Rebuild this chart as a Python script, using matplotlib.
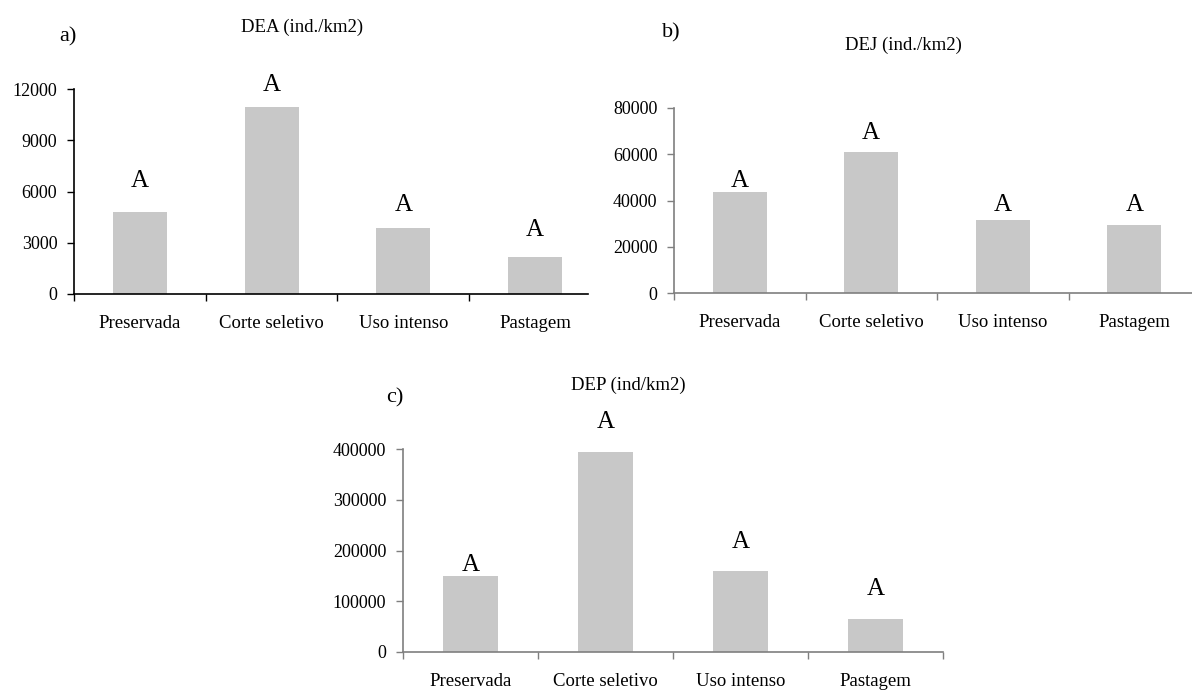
import matplotlib
matplotlib.use("Agg")
import matplotlib.pyplot as plt

plt.rcParams['font.family'] = ['Liberation Serif', 'DejaVu Serif']

categories = ["Preservada", "Corte seletivo", "Uso intenso", "Pastagem"]

dea_values = [4800, 10950, 3850, 2150]
dea_letters = ["A", "A", "A", "A"]
dea_letter_y = [6600, 12230, 5210, 3750]
dea_ticks = [0, 3000, 6000, 9000, 12000]

dej_values = [43600, 61000, 31500, 29400]
dej_letters = ["A", "A", "A", "A"]
dej_letter_y = [48400, 69200, 38000, 38000]
dej_ticks = [0, 20000, 40000, 60000, 80000]

dep_values = [150000, 395000, 160000, 65000]
dep_letters = ["A", "A", "A", "A"]
dep_letter_y = [171000, 454000, 217000, 124000]
dep_ticks = [0, 100000, 200000, 300000, 400000]

W, H = 1192, 690
fig = plt.figure(figsize=(W / 100, H / 100), dpi=100)

BAR_COLOR = "#c8c8c8"


def px_axes(x0, y0, x1, y1):
    # x0,x1 left/right px; y0 = top px, y1 = bottom px
    return fig.add_axes([x0 / W, 1 - y1 / H, (x1 - x0) / W, (y1 - y0) / H])


def draw_panel(ax, values, letters, letter_y, ticks, spine_color, bound_ticks, right_bound=None):
    x = list(range(len(categories)))
    ax.bar(x, values, width=0.41, color=BAR_COLOR, zorder=2)
    for xi, lab, ly in zip(x, letters, letter_y):
        ax.text(xi, ly, lab, ha="center", va="center", fontsize=18, clip_on=False)
    ax.set_xlim(-0.5, len(categories) - 0.5)
    ax.set_ylim(0, ticks[-1])
    ax.set_yticks(ticks)
    ax.set_yticklabels([str(t) for t in ticks], fontsize=13)
    ax.set_xticks(x)
    ax.set_xticklabels(categories, fontsize=13.5)
    ax.set_xticks(bound_ticks, minor=True)
    ax.tick_params(axis="x", which="major", length=0, pad=15)
    ax.tick_params(axis="x", which="minor", length=5, width=1, color=spine_color, direction="out")
    ax.tick_params(axis="y", length=5, width=1, color=spine_color, pad=7, direction="out")
    for s in ["top", "right"]:
        ax.spines[s].set_visible(False)
    for s in ["left", "bottom"]:
        ax.spines[s].set_color(spine_color)
        ax.spines[s].set_linewidth(1.2)
    if right_bound is not None:
        ax.spines["bottom"].set_bounds(-0.5, right_bound)
    ax.set_facecolor("none")


# panel a
ax_a = px_axes(74, 89, 74 + 4 * 131.7, 294)
draw_panel(ax_a, dea_values, dea_letters, dea_letter_y, dea_ticks, "black",
           [-0.5, 0.5, 1.5, 2.5], right_bound=3.4)
fig.text(302 / W, 1 - 27 / H, "DEA (ind./km2)", ha="center", va="center", fontsize=13.5)
fig.text(68 / W, 1 - 37 / H, "a)", ha="center", va="center", fontsize=16)

# panel b
ax_b = px_axes(674, 108, 674 + 4 * 131.5, 293)
draw_panel(ax_b, dej_values, dej_letters, dej_letter_y, dej_ticks, "#7f7f7f",
           [-0.5, 0.5, 1.5, 2.5, 3.5])
fig.text(903 / W, 1 - 45 / H, "DEJ (ind./km2)", ha="center", va="center", fontsize=13.5)
fig.text(671 / W, 1 - 33 / H, "b)", ha="center", va="center", fontsize=16)

# panel c
ax_c = px_axes(403, 449, 943, 652)
draw_panel(ax_c, dep_values, dep_letters, dep_letter_y, dep_ticks, "#7f7f7f",
           [-0.5, 0.5, 1.5, 2.5, 3.5])
fig.text(628 / W, 1 - 385 / H, "DEP (ind/km2)", ha="center", va="center", fontsize=13.5)
fig.text(395 / W, 1 - 398 / H, "c)", ha="center", va="center", fontsize=16)

fig.savefig("out.png", dpi=100)
